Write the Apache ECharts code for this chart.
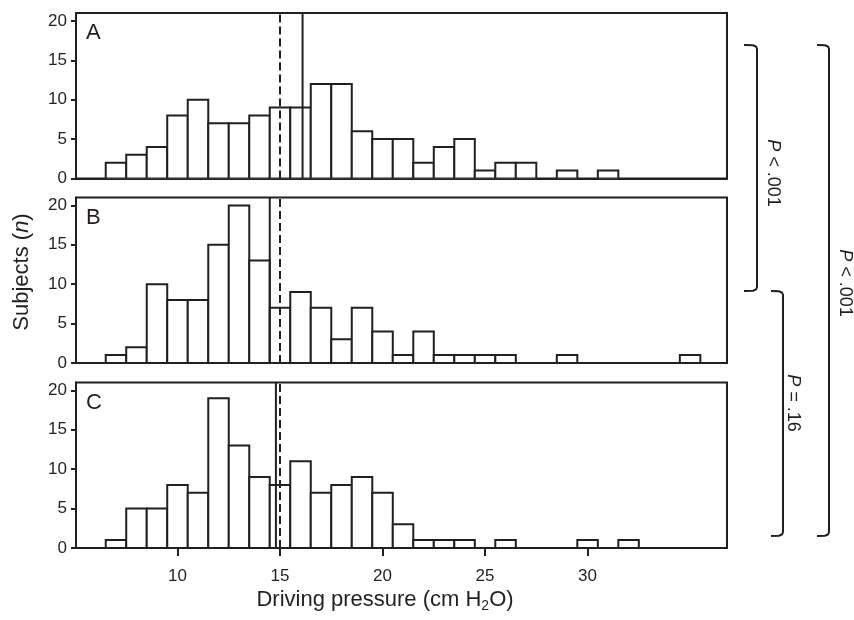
<!DOCTYPE html>
<html>
<head>
<meta charset="utf-8">
<script src="https://cdn.jsdelivr.net/npm/echarts@6/dist/echarts.min.js"></script>
<style>
  html, body { margin: 0; padding: 0; background: #fff; }
  #chart { width: 854px; height: 620px; }
</style>
</head>
<body>
<div id="chart"></div>
<script>
// bin centres (cm H2O), bins are 1 wide
const bins = [7, 8, 9, 10, 11, 12, 13, 14, 15, 16, 17, 18, 19, 20, 21,
  22, 23, 24, 25, 26, 27, 28, 29, 30, 31, 32, 33, 34, 35];
const countsA = [2, 3, 4, 8, 10, 7, 7, 8, 9, 9, 12, 12, 6, 5, 5,
  2, 4, 5, 1, 2, 2, 0, 1, 0, 1, 0, 0, 0, 0];
const countsB = [1, 2, 10, 8, 8, 15, 20, 13, 7, 9, 7, 3, 7, 4, 1,
  4, 1, 1, 1, 1, 0, 0, 1, 0, 0, 0, 0, 0, 1];
const countsC = [1, 5, 5, 8, 7, 19, 13, 9, 8, 11, 7, 8, 9, 7, 3,
  1, 1, 1, 0, 1, 0, 0, 0, 1, 0, 1, 0, 0, 0];
const panelNames = ["A", "B", "C"];
// solid / dashed reference lines per panel
const solidLines = [16.1, 14.5, 14.8];
const dashedLines = [15, 15, 15];
const xTicks = [10, 15, 20, 25, 30];
const yTicks = [0, 5, 10, 15, 20];

const ink = "#231f20";
const font = "'Liberation Sans', Arial, Helvetica, sans-serif";
const gridTops = [13, 197.5, 382.5];

const chart = echarts.init(document.getElementById("chart"));

function renderBar(params, api) {
  const x = api.value(0);
  const y = api.value(1);
  if (!y) return;
  const p0 = api.coord([x - 0.5, y]);
  const p1 = api.coord([x + 0.5, 0]);
  return {
    type: "rect",
    shape: { x: p0[0], y: p0[1], width: p1[0] - p0[0], height: p1[1] - p0[1] },
    style: { fill: "#fff", stroke: ink, lineWidth: 2 },
  };
}

const allCounts = [countsA, countsB, countsC];
const grids = [], xAxes = [], yAxes = [], series = [];

allCounts.forEach((counts, i) => {
  const last = i === 2;
  grids.push({
    left: 76, right: 127, top: gridTops[i], height: 165.5,
    show: true, borderColor: ink, borderWidth: 2,
    outerBoundsMode: "none",
  });
  xAxes.push({
    type: "value", gridIndex: i, min: 5.05, max: 36.8,
    axisLine: { show: true, onZero: false, lineStyle: { color: ink, width: 2 } },
    axisTick: { show: last, length: 8, customValues: xTicks, lineStyle: { color: ink, width: 2 } },
    axisLabel: { show: last, customValues: xTicks, margin: 20, color: ink, fontSize: 17, fontFamily: font },
    splitLine: { show: false },
  });
  yAxes.push({
    type: "value", gridIndex: i, min: 0, max: 21,
    axisLine: { show: true, lineStyle: { color: ink, width: 2 } },
    axisTick: { show: true, length: 5, customValues: yTicks, lineStyle: { color: ink, width: 2 } },
    axisLabel: { customValues: yTicks, margin: 9, color: ink, fontSize: 17, fontFamily: font },
    splitLine: { show: false },
  });
  series.push({
    type: "custom", xAxisIndex: i, yAxisIndex: i,
    renderItem: renderBar, clip: true,
    encode: { x: 0, y: 1 },
    data: bins.map((b, k) => [b, counts[k]]),
    z: 2,
  });
  series.push({
    type: "line", xAxisIndex: i, yAxisIndex: i, symbol: "none", z: 5,
    lineStyle: { color: ink, width: 2 },
    data: [[solidLines[i], 0], [solidLines[i], 21]],
  });
  series.push({
    type: "line", xAxisIndex: i, yAxisIndex: i, symbol: "none", z: 5,
    lineStyle: { color: ink, width: 2, type: [8, 4] },
    data: [[dashedLines[i], 0], [dashedLines[i], 21]],
  });
});

// panel letters, axis titles and the p-value brackets
const graphics = panelNames.map((name, i) => ({
  type: "text", x: 86, y: gridTops[i] + 20,
  style: { text: name, font: "22px " + font, fill: ink, verticalAlign: "middle" },
}));

graphics.push({
  type: "text", x: 22, y: 272, rotation: Math.PI / 2,
  style: {
    text: "{a|Subjects (}{i|n}{a|)}", align: "center", verticalAlign: "middle",
    rich: {
      a: { fontSize: 22, fontFamily: font, fill: ink },
      i: { fontSize: 22, fontFamily: font, fontStyle: "italic", fill: ink },
    },
  },
});
graphics.push({
  type: "text", x: 385, y: 600,
  style: {
    text: "{a|Driving pressure (cm H}{s|2}{a|O)}", align: "center", verticalAlign: "middle",
    rich: {
      a: { fontSize: 22, fontFamily: font, fill: ink, lineHeight: 26, verticalAlign: "middle" },
      s: { fontSize: 14, fontFamily: font, fill: ink, lineHeight: 14, verticalAlign: "bottom" },
    },
  },
});

function bracket(x0, x1, y0, y1) {
  return {
    type: "polyline",
    shape: {
      points: [[x0, y0], [x1 - 4, y0 + 0.3], [x1 - 1, y0 + 1.5], [x1, y0 + 4],
        [x1, y1 - 4], [x1 - 1, y1 - 1.5], [x1 - 4, y1 - 0.3], [x0, y1]],
    },
    style: { fill: null, stroke: ink, lineWidth: 2 },
  };
}
graphics.push(bracket(744, 757, 45, 291));
graphics.push(bracket(771, 783, 291, 536));
graphics.push(bracket(817, 829, 45, 536));

function pText(x, y, rest) {
  return {
    type: "text", x: x, y: y, rotation: -Math.PI / 2,
    style: {
      text: "{i|P}{a|" + rest + "}", align: "center", verticalAlign: "middle",
      rich: {
        a: { fontSize: 18, fontFamily: font, fill: ink },
        i: { fontSize: 18, fontFamily: font, fontStyle: "italic", fill: ink },
      },
    },
  };
}
graphics.push(pText(773, 173, " < .001"));
graphics.push(pText(793, 403, " = .16"));
graphics.push(pText(845, 283, " < .001"));

chart.setOption({
  animation: false,
  backgroundColor: "#fff",
  grid: grids,
  xAxis: xAxes,
  yAxis: yAxes,
  series: series,
  graphic: graphics,
});
</script>
</body>
</html>
